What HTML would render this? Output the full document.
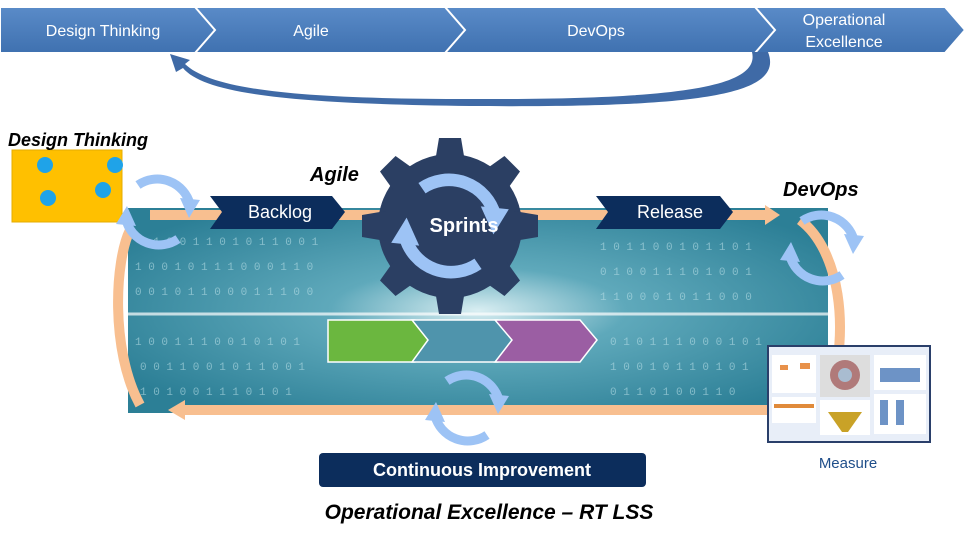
<!DOCTYPE html>
<html><head><meta charset="utf-8"><style>
body{margin:0;background:#fff;width:975px;height:535px;overflow:hidden;font-family:"Liberation Sans",sans-serif}
</style></head><body>
<svg width="975" height="535" viewBox="0 0 975 535" xmlns="http://www.w3.org/2000/svg" font-family="Liberation Sans, sans-serif">
<defs>
<radialGradient id="bg" cx="0.5" cy="0.5" r="0.6">
<stop offset="0" stop-color="#d9eef2"/><stop offset="0.35" stop-color="#5fa9bb"/><stop offset="1" stop-color="#2c7f96"/>
</radialGradient>
<linearGradient id="chev" x1="0" y1="0" x2="0" y2="1"><stop offset="0" stop-color="#5a8bc8"/><stop offset="1" stop-color="#3f71b0"/></linearGradient>
<g id="cyc">
<path d="M-20,-27 A34,34 0 0 1 32,-8" fill="none" stroke="#9dc3f5" stroke-width="9"/>
<polygon points="22,-14 42,-12 31,6" fill="#9dc3f5"/>
<path d="M20,27 A34,34 0 0 1 -32,8" fill="none" stroke="#9dc3f5" stroke-width="9"/>
<polygon points="-22,14 -42,12 -31,-6" fill="#9dc3f5"/>
</g>
</defs>
<g stroke="#fff" stroke-width="2" fill="url(#chev)">
<polygon points="750,7 945,7 965,30 945,53 750,53 770,30"/>
<polygon points="440,7 755,7 775,30 755,53 440,53 460,30"/>
<polygon points="192,7 445,7 465,30 445,53 192,53 212,30"/>
<polygon points="0,7 195,7 215,30 195,53 0,53"/>
</g>
<g fill="#fff" font-size="16" text-anchor="middle">
<text x="103" y="36">Design Thinking</text>
<text x="311" y="36">Agile</text>
<text x="596" y="36">DevOps</text>
<text x="844" y="25">Operational</text>
<text x="844" y="47">Excellence</text>
</g>
<path d="M768,52 C785,95 700,108 470,106 C300,104 205,95 183,68 L176,72 L170,54 L190,60 L185,64 C212,90 300,99 470,99 C690,100 760,85 752,52 Z" fill="#3f6aa6"/>
<rect x="128" y="208" width="700" height="205" fill="url(#bg)"/>
<g fill="#bfe3ea" opacity="0.55" font-size="11" font-family="Liberation Mono, monospace">
<text x="140" y="245">0 1 0 0 1 1 0 1 0 1 1 0 0 1</text>
<text x="135" y="270">1 0 0 1 0 1 1 1 0 0 0 1 1 0</text>
<text x="135" y="295">0 0 1 0 1 1 0 0 0 1 1 1 0 0</text>
<text x="135" y="345">1 0 0 1 1 1 0 0 1 0 1 0 1</text>
<text x="140" y="370">0 0 1 1 0 0 1 0 1 1 0 0 1</text>
<text x="140" y="395">1 0 1 0 0 1 1 1 0 1 0 1</text>
<text x="600" y="250">1 0 1 1 0 0 1 0 1 1 0 1</text>
<text x="600" y="275">0 1 0 0 1 1 1 0 1 0 0 1</text>
<text x="600" y="300">1 1 0 0 0 1 0 1 1 0 0 0</text>
<text x="610" y="345">0 1 0 1 1 1 0 0 0 1 0 1</text>
<text x="610" y="370">1 0 0 1 0 1 1 0 1 0 1</text>
<text x="610" y="395">0 1 1 0 1 0 0 1 1 0</text>
</g>
<line x1="128" y1="314" x2="828" y2="314" stroke="#fff" stroke-width="3" opacity="0.7"/>
<g fill="none" stroke="#f8bf90" stroke-width="10">
<path d="M150,215 L765,215"/>
<path d="M800,220 C840,250 850,330 830,395 L820,410"/>
<path d="M830,410 L185,410"/>
<path d="M140,405 C110,350 115,260 130,230"/>
</g>
<polygon points="765,205 780,215 765,225" fill="#f8bf90"/>
<polygon points="185,400 168,410 185,420" fill="#f8bf90"/>
<rect x="12" y="150" width="110" height="72" fill="#ffc000" stroke="#e6ac00"/>
<g fill="#1fa3e8"><circle cx="45" cy="165" r="8"/><circle cx="115" cy="165" r="8"/><circle cx="48" cy="198" r="8"/><circle cx="103" cy="190" r="8"/></g>
<text x="8" y="146" font-size="18" font-weight="bold" font-style="italic">Design Thinking</text>
<use href="#cyc" x="158" y="212"/>
<polygon points="210,196 332,196 345,212 332,229 210,229 222,212" fill="#0c2d5c"/>
<text x="280" y="218" fill="#fff" font-size="18" text-anchor="middle">Backlog</text>
<polygon points="596,196 720,196 733,212 720,229 596,229 608,212" fill="#0c2d5c"/>
<text x="670" y="218" fill="#fff" font-size="18" text-anchor="middle">Release</text>
<text x="310" y="181" font-size="20" font-weight="bold" font-style="italic">Agile</text>
<text x="783" y="196" font-size="20" font-weight="bold" font-style="italic">DevOps</text>
<g transform="translate(450,226)" fill="#2b3f63">
<circle r="72"/>
<g id="t"><polygon points="-15,-64 15,-64 11,-88 -11,-88"/></g>
<use href="#t" transform="rotate(45)"/><use href="#t" transform="rotate(90)"/><use href="#t" transform="rotate(135)"/>
<use href="#t" transform="rotate(180)"/><use href="#t" transform="rotate(225)"/><use href="#t" transform="rotate(270)"/><use href="#t" transform="rotate(315)"/>
</g>
<g transform="translate(450,226) scale(1.4)"><use href="#cyc"/></g>
<text x="464" y="232" fill="#fff" font-size="20" font-weight="bold" text-anchor="middle">Sprints</text>
<use href="#cyc" x="822" y="248"/>
<polygon points="328,320 415,320 432,340 415,362 328,362" fill="#6bb73f" stroke="#fff" stroke-width="1.5"/>
<polygon points="412,320 498,320 515,340 498,362 412,362 428,340" fill="#4f94ac" stroke="#fff" stroke-width="1.5"/>
<polygon points="495,320 580,320 597,340 580,362 495,362 512,340" fill="#9b5ea3" stroke="#fff" stroke-width="1.5"/>
<use href="#cyc" x="467" y="408"/>
<rect x="768" y="346" width="162" height="96" fill="#e8eef8" stroke="#2a3f6a" stroke-width="2"/>
<rect x="772" y="355" width="44" height="38" fill="#fff"/><rect x="820" y="355" width="50" height="42" fill="#ddd"/>
<circle cx="845" cy="375" r="15" fill="#b07a7a"/><circle cx="845" cy="375" r="7" fill="#a9bcd0"/>
<rect x="874" y="355" width="52" height="35" fill="#fff"/><rect x="772" y="397" width="44" height="26" fill="#fff"/>
<rect x="774" y="404" width="40" height="4" fill="#e08a3a"/>
<rect x="820" y="400" width="50" height="35" fill="#fff"/><polygon points="828,412 862,412 848,432 842,432" fill="#c9a227"/>
<rect x="874" y="394" width="52" height="40" fill="#fff"/>
<g fill="#e8914a"><rect x="780" y="365" width="8" height="5"/><rect x="800" y="363" width="10" height="6"/></g>
<g fill="#6d93c6"><rect x="880" y="368" width="40" height="14"/><rect x="880" y="400" width="8" height="25"/><rect x="896" y="400" width="8" height="25"/></g>
<text x="848" y="468" fill="#1f4e8a" font-size="15" text-anchor="middle">Measure</text>
<rect x="319" y="453" width="327" height="34" rx="4" fill="#0c2d5c"/>
<text x="482" y="476" fill="#fff" font-size="18" font-weight="bold" text-anchor="middle">Continuous Improvement</text>
<text x="489" y="519" font-size="21" font-weight="bold" font-style="italic" text-anchor="middle">Operational Excellence – RT LSS</text>
</svg>
</body></html>
